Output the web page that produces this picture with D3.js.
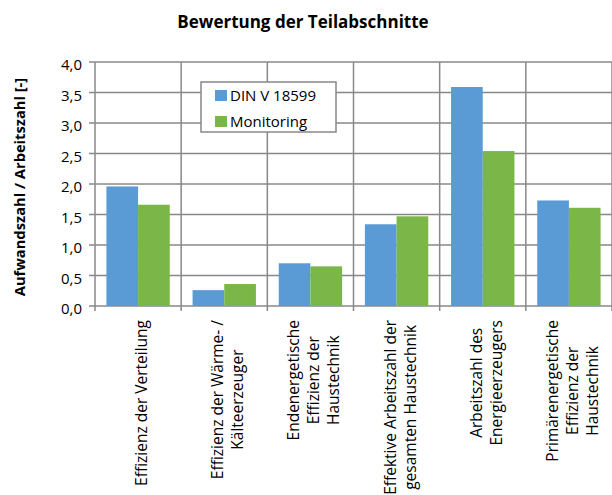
<!DOCTYPE html>
<html>
<head>
<meta charset="utf-8">
<script src="https://cdn.jsdelivr.net/npm/d3@7"></script>
<style>
  body { margin: 0; background: #fff; }
  text { font-family: "Open Sans", sans-serif; fill: #000; }
</style>
</head>
<body>
<div id="chart"></div>
<script>
// chart data
const categories = [
  ['Effizienz der Verteilung'],
  ['Effizienz der Wärme- /', 'Kälteerzeuger'],
  ['Endenergetische', 'Effizienz der', 'Haustechnik'],
  ['Effektive Arbeitszahl der', 'gesamten Haustechnik'],
  ['Arbeitszahl des', 'Energieerzeugers'],
  ['Primärenergetische', 'Effizienz der', 'Haustechnik']
];
const seriesNames = ['DIN V 18599', 'Monitoring'];
const dinValues = [1.96, 0.26, 0.70, 1.34, 3.59, 1.73];
const monitoringValues = [1.66, 0.36, 0.65, 1.47, 2.54, 1.61];
const yTicks = [0, 0.5, 1, 1.5, 2, 2.5, 3, 3.5, 4];
const colors = ['#5B9BD5', '#7AB648'];

const width = 612, height = 495;
const margin = { top: 62, right: 0, bottom: 189, left: 95 };
const innerW = width - margin.left - margin.right;
const innerH = height - margin.top - margin.bottom;

const svg = d3.select('#chart').append('svg')
  .attr('width', width).attr('height', height);

svg.append('text')
  .attr('x', 303).attr('y', 28)
  .attr('text-anchor', 'middle')
  .style('font-size', '17px').style('font-weight', 'bold')
  .text('Bewertung der Teilabschnitte');

const g = svg.append('g')
  .attr('transform', `translate(${margin.left}, ${margin.top})`);

const x = d3.scaleBand().domain(d3.range(categories.length))
  .range([0, innerW]).paddingInner(0).paddingOuter(0);
const inner = d3.scaleBand().domain([0, 1])
  .range([0, x.bandwidth()]).paddingOuter(0.36).paddingInner(0);
const y = d3.scaleLinear().domain([0, 4]).range([innerH, 0]);

// grid
g.append('g').selectAll('line').data(yTicks).join('line')
  .attr('x1', -6).attr('x2', innerW)
  .attr('y1', d => y(d)).attr('y2', d => y(d))
  .attr('stroke', '#888').attr('stroke-width', 1.5);

g.append('g').selectAll('line').data(d3.range(categories.length + 1)).join('line')
  .attr('x1', d => d * x.step()).attr('x2', d => d * x.step())
  .attr('y1', 0).attr('y2', innerH + 5)
  .attr('stroke', '#888').attr('stroke-width', 1.5);

// y tick labels
g.append('g').selectAll('text').data(yTicks).join('text')
  .attr('x', -13).attr('y', d => y(d) + 3).attr('dy', '0.35em')
  .attr('text-anchor', 'end')
  .style('font-size', '15px')
  .text(d => d3.format('.1f')(d).replace('.', ','));

// bars
const series = [dinValues, monitoringValues];
series.forEach((vals, si) => {
  g.append('g').selectAll('rect').data(vals).join('rect')
    .attr('x', (d, i) => x(i) + inner(si))
    .attr('y', d => y(d))
    .attr('width', inner.bandwidth())
    .attr('height', d => innerH - y(d))
    .attr('fill', colors[si]);
});

// x labels
const lineH = 20;
categories.forEach((lines, i) => {
  const lg = g.append('g');
  const texts = lg.selectAll('text').data(lines).join('text')
    .attr('text-anchor', 'middle')
    .style('font-size', '15.5px')
    .text(d => d);
  const maxW = d3.max(texts.nodes(), n => n.getComputedTextLength());
  const cy = innerH + 14 + maxW / 2;
  const cx = x(i) + x.bandwidth() / 2 + 4;
  texts.attr('transform', (d, j) => {
    const xx = cx + (j - (lines.length - 1) / 2) * lineH + 5;
    return `translate(${xx}, ${cy}) rotate(-90)`;
  });
});

// y axis title
svg.append('text')
  .attr('transform', `translate(25, 187) rotate(-90)`)
  .attr('text-anchor', 'middle')
  .style('font-size', '14.7px').style('font-weight', 'bold')
  .text('Aufwandszahl / Arbeitszahl [-]');

// legend
const legend = svg.append('g').attr('transform', 'translate(201, 82)');
legend.append('rect')
  .attr('width', 135).attr('height', 50)
  .attr('fill', '#fff').attr('stroke', '#888').attr('stroke-width', 1.5);
seriesNames.forEach((name, i) => {
  legend.append('rect')
    .attr('x', 14).attr('y', 8 + i * 26)
    .attr('width', 12).attr('height', 11)
    .attr('fill', colors[i]);
  legend.append('text')
    .attr('x', 29).attr('y', 14 + i * 26).attr('dy', '0.35em')
    .style('font-size', '15px')
    .text(name);
});
</script>
</body>
</html>
